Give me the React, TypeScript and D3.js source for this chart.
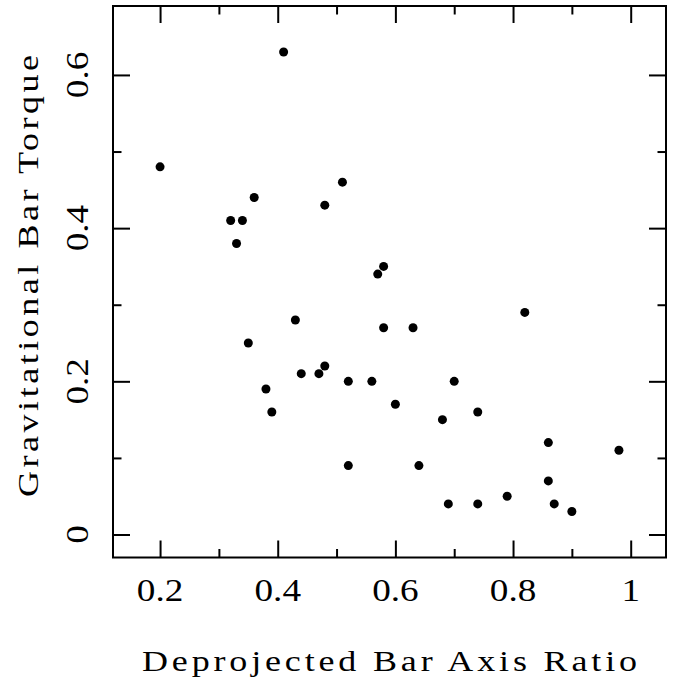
import React, { useEffect, useRef } from "react";
import { select, scaleLinear, axisBottom, axisTop, axisLeft, axisRight } from "d3";

// bar axis ratio vs torque
const axisRatio = [
  0.2, 0.41, 0.32, 0.34, 0.33, 0.36, 0.48, 0.51, 0.57, 0.58,
  0.35, 0.43, 0.38, 0.39, 0.44, 0.47, 0.48, 0.52, 0.56, 0.58,
  0.63, 0.6, 0.7, 0.68, 0.74, 0.82, 0.52, 0.64, 0.69, 0.74,
  0.79, 0.86, 0.86, 0.87, 0.9, 0.98
];
const barTorque = [
  0.48, 0.63, 0.41, 0.41, 0.38, 0.44, 0.43, 0.46, 0.34, 0.35,
  0.25, 0.28, 0.19, 0.16, 0.21, 0.21, 0.22, 0.2, 0.2, 0.27,
  0.27, 0.17, 0.2, 0.15, 0.16, 0.29, 0.09, 0.09, 0.04, 0.04,
  0.05, 0.12, 0.07, 0.04, 0.03, 0.11
];

const xMajor = [0.2, 0.4, 0.6, 0.8, 1.0];
const xMinor = [0.3, 0.5, 0.7, 0.9];
const xLabels = ["0.2", "0.4", "0.6", "0.8", "1"];
const yMajor = [0, 0.2, 0.4, 0.6];
const yMinor = [0.1, 0.3, 0.5];
const yLabels = ["0", "0.2", "0.4", "0.6"];

const FONT = "'Liberation Serif', serif";
const STRETCH = 1.2; // the plot's font is wider than Liberation Serif

export default function App() {
  const ref = useRef<SVGSVGElement>(null);

  useEffect(() => {
    const svg = select(ref.current);
    svg.selectAll("*").remove();

    const left = 113, right = 666, top = 6, bottom = 557.5;
    const x = scaleLinear().domain([0.12, 1.06]).range([left, right]);
    const y = scaleLinear().domain([-0.03, 0.69]).range([bottom, top]);

    const major = 17, minor = 8.5;

    // inward ticks on all four sides
    const addTicks = (axis: any, values: number[], size: number, tx: number, ty: number) => {
      const g = svg.append("g").attr("transform", `translate(${tx},${ty})`)
        .call(axis.tickValues(values).tickSize(-size).tickFormat(() => ""));
      g.select(".domain").remove();
      g.selectAll(".tick line").attr("stroke", "#000").attr("stroke-width", 2);
    };
    addTicks(axisBottom(x), xMajor, major, 0, bottom);
    addTicks(axisBottom(x), xMinor, minor, 0, bottom);
    addTicks(axisTop(x), xMajor, major, 0, top);
    addTicks(axisTop(x), xMinor, minor, 0, top);
    addTicks(axisLeft(y), yMajor, major, left, 0);
    addTicks(axisLeft(y), yMinor, minor, left, 0);
    addTicks(axisRight(y), yMajor, major, right, 0);
    addTicks(axisRight(y), yMinor, minor, right, 0);

    svg.append("rect")
      .attr("x", left).attr("y", top)
      .attr("width", right - left).attr("height", bottom - top)
      .attr("fill", "none").attr("stroke", "#000").attr("stroke-width", 2);

    // tick labels
    svg.selectAll(".xlab").data(xMajor).enter().append("text")
      .attr("class", "xlab")
      .attr("transform", d => `translate(${x(d)},601) scale(${STRETCH},1)`)
      .attr("text-anchor", "middle")
      .attr("font-family", FONT).attr("font-size", 31)
      .text((d, i) => xLabels[i]);

    svg.selectAll(".ylab").data(yMajor).enter().append("text")
      .attr("class", "ylab")
      .attr("transform", d => `translate(88,${y(d)}) rotate(-90) scale(${STRETCH},1)`)
      .attr("text-anchor", "middle")
      .attr("font-family", FONT).attr("font-size", 31)
      .text((d, i) => yLabels[i]);

    // axis titles
    svg.append("text")
      .attr("transform", `translate(389.5,671) scale(${STRETCH},1)`)
      .attr("text-anchor", "middle")
      .attr("font-family", FONT).attr("font-size", 30)
      .attr("textLength", 495 / STRETCH).attr("lengthAdjust", "spacing")
      .text("Deprojected Bar Axis Ratio");

    svg.append("text")
      .attr("transform", `translate(38,276) rotate(-90) scale(${STRETCH},1)`)
      .attr("text-anchor", "middle")
      .attr("font-family", FONT).attr("font-size", 30)
      .attr("textLength", 442 / STRETCH).attr("lengthAdjust", "spacing")
      .text("Gravitational Bar Torque");

    svg.selectAll(".dot").data(axisRatio).enter().append("circle")
      .attr("class", "dot")
      .attr("cx", d => x(d))
      .attr("cy", (d, i) => y(barTorque[i]))
      .attr("r", 4.5)
      .attr("fill", "#000");
  }, []);

  return (
    <svg
      ref={ref}
      width={678}
      height={677}
      style={{ position: "absolute", left: 0, top: 0, background: "#fff" }}
    />
  );
}
